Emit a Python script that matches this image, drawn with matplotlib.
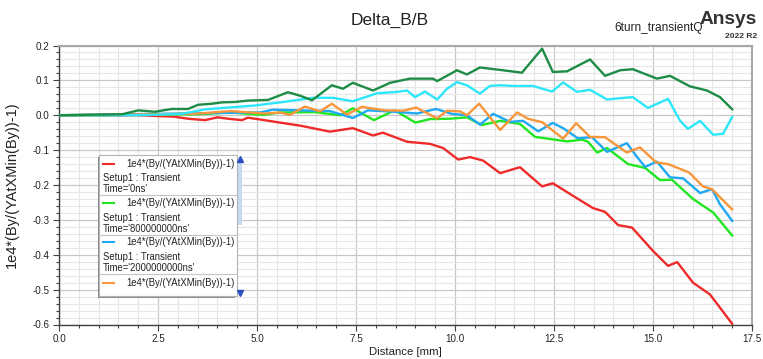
import matplotlib
matplotlib.use("Agg")
import matplotlib.pyplot as plt
import matplotlib.transforms as mtransforms
from matplotlib.patches import Rectangle
from matplotlib.lines import Line2D
from matplotlib.ticker import MultipleLocator, FormatStrFormatter
from matplotlib import font_manager

# ---------------- data ----------------
red_x = [0.0, 1.0, 2.0, 2.9, 3.26, 3.69, 4.0, 4.27, 4.62, 4.77, 5.13, 5.63, 6.1, 6.84, 7.42, 7.93, 8.18, 8.79,
         9.37, 9.70, 10.08, 10.38, 10.71, 11.14, 11.64, 12.2, 12.47, 12.98, 13.48, 13.79, 14.12, 14.47, 15.0,
         15.38, 15.61, 16.01, 16.44, 17.0]
red_y = [0.0, 0.0, 0.0, -0.004, -0.01, -0.014, -0.006, -0.01, -0.014, -0.007, -0.013, -0.022, -0.03, -0.047,
         -0.037, -0.058, -0.05, -0.076, -0.082, -0.094, -0.127, -0.12, -0.13, -0.166, -0.149, -0.204, -0.195,
         -0.231, -0.266, -0.277, -0.315, -0.322, -0.389, -0.432, -0.421, -0.48, -0.514, -0.598]

green_x = [0.0, 1.04, 2.55, 3.56, 4.32, 5.15, 5.58, 6.46, 7.1, 7.42, 7.95, 8.48, 9.0, 9.37, 9.87, 10.3, 10.68,
           11.14, 11.64, 12.02, 12.53, 12.83, 13.21, 13.36, 13.59, 13.84, 14.37, 14.8, 15.18, 15.48, 16.01,
           16.52, 17.0]
green_y = [0.0, 0.0, 0.002, 0.003, 0.008, 0.001, 0.008, 0.009, 0.0, 0.02, -0.014, 0.014, -0.021, -0.011,
           -0.01, -0.006, -0.028, -0.016, -0.025, -0.062, -0.07, -0.075, -0.07, -0.076, -0.107, -0.094, -0.14,
           -0.151, -0.186, -0.185, -0.24, -0.279, -0.345]

blue_x = [0.0, 1.04, 2.55, 4.32, 5.08, 5.4, 6.09, 6.84, 7.42, 7.8, 8.48, 9.04, 9.52, 9.92, 10.3, 10.63, 10.96,
          11.39, 11.72, 12.1, 12.47, 12.73, 13.1, 13.46, 13.84, 14.34, 14.6, 14.8, 15.1, 15.43, 15.76, 16.19,
          16.49, 16.69, 17.0]
blue_y = [0.0, 0.002, 0.004, 0.007, 0.008, 0.016, 0.014, 0.012, -0.008, 0.014, 0.01, 0.005, 0.018, 0.004, 0.0,
          -0.027, 0.004, -0.019, -0.016, -0.046, -0.022, -0.037, -0.066, -0.063, -0.105, -0.08, -0.12, -0.148,
          -0.133, -0.178, -0.181, -0.223, -0.212, -0.255, -0.303]

orange_x = [0.0, 1.04, 2.55, 3.56, 4.32, 5.2, 5.58, 5.83, 6.21, 6.59, 6.89, 7.27, 7.65, 8.23, 8.69, 9.02, 9.55,
            9.8, 10.13, 10.3, 10.61, 11.14, 11.57, 11.84, 12.2, 12.73, 13.06, 13.41, 13.79, 14.34, 14.67, 15.08,
            15.38, 15.91, 16.26, 16.49, 17.0]
orange_y = [0.0, 0.001, 0.003, 0.005, 0.012, 0.005, 0.008, 0.001, 0.025, 0.011, 0.033, 0.002, 0.024, 0.014,
            0.013, 0.022, -0.009, 0.013, 0.011, 0.0, 0.033, -0.042, 0.008, -0.01, -0.02, -0.067, -0.023, -0.062,
            -0.063, -0.107, -0.092, -0.135, -0.14, -0.164, -0.204, -0.212, -0.27]

cyan_x = [0.0, 2.0, 2.55, 3.1, 3.69, 4.27, 4.95, 5.66, 6.41, 6.92, 7.42, 8.03, 8.54, 8.79, 8.99, 9.24, 9.55, 9.8,
          10.05, 10.3, 10.63, 10.88, 11.14, 11.46, 11.97, 12.45, 12.73, 13.08, 13.41, 13.84, 14.17, 14.49, 14.87,
          15.38, 15.68, 15.88, 16.19, 16.52, 16.77, 17.0]
cyan_y = [0.0, 0.0, 0.002, 0.004, 0.017, 0.022, 0.028, 0.038, 0.05, 0.05, 0.04, 0.063, 0.067, 0.071, 0.052,
          0.068, 0.045, 0.076, 0.095, 0.086, 0.062, 0.084, 0.086, 0.084, 0.084, 0.068, 0.094, 0.067, 0.073, 0.045,
          0.049, 0.052, 0.021, 0.047, -0.015, -0.039, -0.016, -0.056, -0.053, -0.005]

darkgreen_x = [0.0, 1.04, 1.6, 2.0, 2.42, 2.85, 3.26, 3.51, 3.86, 4.12, 4.44, 4.77, 5.28, 5.78, 6.09, 6.39, 6.89,
               7.17, 7.42, 7.93, 8.36, 8.86, 9.44, 9.55, 10.05, 10.3, 10.63, 11.14, 11.69, 12.2, 12.47, 12.83,
               13.41, 13.79, 14.17, 14.49, 15.1, 15.43, 15.93, 16.36, 16.69, 17.0]
darkgreen_y = [0.0, 0.002, 0.003, 0.014, 0.01, 0.018, 0.018, 0.03, 0.033, 0.037, 0.038, 0.042, 0.044, 0.066,
               0.056, 0.043, 0.086, 0.076, 0.093, 0.071, 0.093, 0.105, 0.105, 0.098, 0.129, 0.117, 0.137, 0.13,
               0.122, 0.191, 0.124, 0.126, 0.16, 0.113, 0.129, 0.132, 0.105, 0.113, 0.083, 0.071, 0.052, 0.017]

series_colors = ["#ee2a2a", "#22e622", "#1fa9f2", "#f7963a", "#2ee6fa", "#1e8c46"]

title = "Delta_B/B"
project = "6turn_transientQ"
brand = "Ansys"
version = "2022 R2"
x_label = "Distance [mm]"
y_label = "1e4*(By/(YAtXMin(By))-1)"
legend_expr = "1e4*(By/(YAtXMin(By))-1)"
legend_setup = "Setup1 : Transient"
legend_times = ["Time='0ns'", "Time='800000000ns'", "Time='2000000000ns'"]

# ---------------- fonts ----------------
names = {f.name for f in font_manager.fontManager.ttflist}
NARROW = "Liberation Sans Narrow" in names
FONT = "Liberation Sans Narrow" if NARROW else "Liberation Sans"
k = 1.0 if NARROW else 0.86
plt.rcParams["font.family"] = [FONT, "DejaVu Sans"]
plt.rcParams["axes.unicode_minus"] = False

W, H = 763, 359
fig = plt.figure(figsize=(W / 100, H / 100), dpi=100)
fig.patch.set_facecolor("white")

top_px, bot_px, left_px, right_px = 45.5, 324.5, 59, 752
ax = fig.add_axes([left_px / W, 1 - bot_px / H, (right_px - left_px) / W, (bot_px - top_px) / H])

xs = [red_x, green_x, blue_x, orange_x, cyan_x, darkgreen_x]
ys = [red_y, green_y, blue_y, orange_y, cyan_y, darkgreen_y]
for x, y, c in zip(xs, ys, series_colors):
    ax.plot(x, y, color=c, lw=1.7, solid_joinstyle="round", zorder=3)

ax.set_xlim(0, 17.5)
ax.set_ylim(-0.6, 0.2)
ax.xaxis.set_major_locator(MultipleLocator(2.5))
ax.xaxis.set_minor_locator(MultipleLocator(0.5))
ax.yaxis.set_major_locator(MultipleLocator(0.1))
ax.yaxis.set_minor_locator(MultipleLocator(0.02))
ax.xaxis.set_major_formatter(FormatStrFormatter("%.1f"))
ax.yaxis.set_major_formatter(FormatStrFormatter("%.1f"))
ax.grid(which="major", color="#c8c8c8", lw=0.9, zorder=0)
ax.grid(which="minor", color="#e6e6e6", lw=0.8, zorder=0)
ax.set_axisbelow(True)
ax.tick_params(which="major", direction="out", length=4, width=0.8, color="#404040",
               labelsize=8.3 * k, pad=3, labelcolor="#222222")
ax.tick_params(which="minor", direction="out", length=2.5, width=0.8, color="#404040")
for s in ["left", "bottom"]:
    ax.spines[s].set_color("#404040")
    ax.spines[s].set_linewidth(1.0)
for s in ["top", "right"]:
    ax.spines[s].set_color("#a8a8a8")
    ax.spines[s].set_linewidth(1.5)

ax.set_xlabel(x_label, fontsize=9.5 * k, color="#222222", va="center")
ax.xaxis.set_label_coords(0.5, (bot_px - 352) / (bot_px - top_px))
ax.set_ylabel(y_label, fontsize=10.5, family=["Liberation Sans", "DejaVu Sans"], color="#222222", va="center")
ax.yaxis.set_label_coords((12 - left_px) / (right_px - left_px), 0.5)

# pixel transform (origin top-left)
P = mtransforms.Affine2D().scale(1 / W, -1 / H).translate(0, 1) + fig.transFigure

fig.text(390, 20, title, transform=P, ha="center", va="center", fontsize=14.5 * k, color="#222222")
fig.text(703, 28, project, transform=P, ha="right", va="center", fontsize=10 * k, color="#222222")
fig.text(757, 20, brand, transform=P, ha="right", va="center", fontsize=16 * k, fontweight="bold",
         color="#333333")
fig.text(757, 37, version, transform=P, ha="right", va="center", fontsize=7 * k, fontweight="bold",
         color="#333333")

# ---------------- legend box ----------------
lx0, lx1, ly0, ly1 = 99.3, 236.7, 155, 296
fig.add_artist(Rectangle((lx0 - 1.5, ly0 + 1.5), lx1 - lx0, ly1 - ly0, transform=P,
                         facecolor="#8a8a8a", edgecolor="none", zorder=5))
fig.add_artist(Rectangle((lx0, ly0), lx1 - lx0, ly1 - ly0, transform=P,
                         facecolor="white", edgecolor="#b4b4b4", lw=0.8, zorder=6))
# scrollbar
fig.add_artist(Rectangle((237.8, 163), 4.6, 62, transform=P, facecolor="#c6d9f1", edgecolor="none", zorder=6))
fig.add_artist(Line2D([240.1], [158.5], transform=P, marker="^", ms=4, color="#2a4fbf", ls="none", zorder=7))
fig.add_artist(Line2D([240.1], [293], transform=P, marker="v", ms=4, color="#2a4fbf", ls="none", zorder=7))

entry_y = [164, 203.3, 242.3, 282.7]
fs_leg = 8 * k
for i, yy in enumerate(entry_y):
    fig.add_artist(Line2D([102.7, 114], [yy, yy], transform=P, color=series_colors[i], lw=1.5, zorder=7))
    fig.text(126.7, yy, legend_expr, transform=P, ha="left", va="center", fontsize=fs_leg,
             color="#222222", zorder=7)
    if i < len(legend_times):
        fig.text(102.7, yy + 14.3, legend_setup, transform=P, ha="left", va="center", fontsize=fs_leg,
                 color="#222222", zorder=7)
        fig.text(102.7, yy + 25.3, legend_times[i], transform=P, ha="left", va="center", fontsize=fs_leg,
                 color="#222222", zorder=7)
        sep = yy + 31.2
        fig.add_artist(Line2D([lx0, lx1], [sep, sep], transform=P, color="#c4c4c4", lw=0.8, zorder=7))

fig.savefig("out.png", dpi=100, facecolor="white")
